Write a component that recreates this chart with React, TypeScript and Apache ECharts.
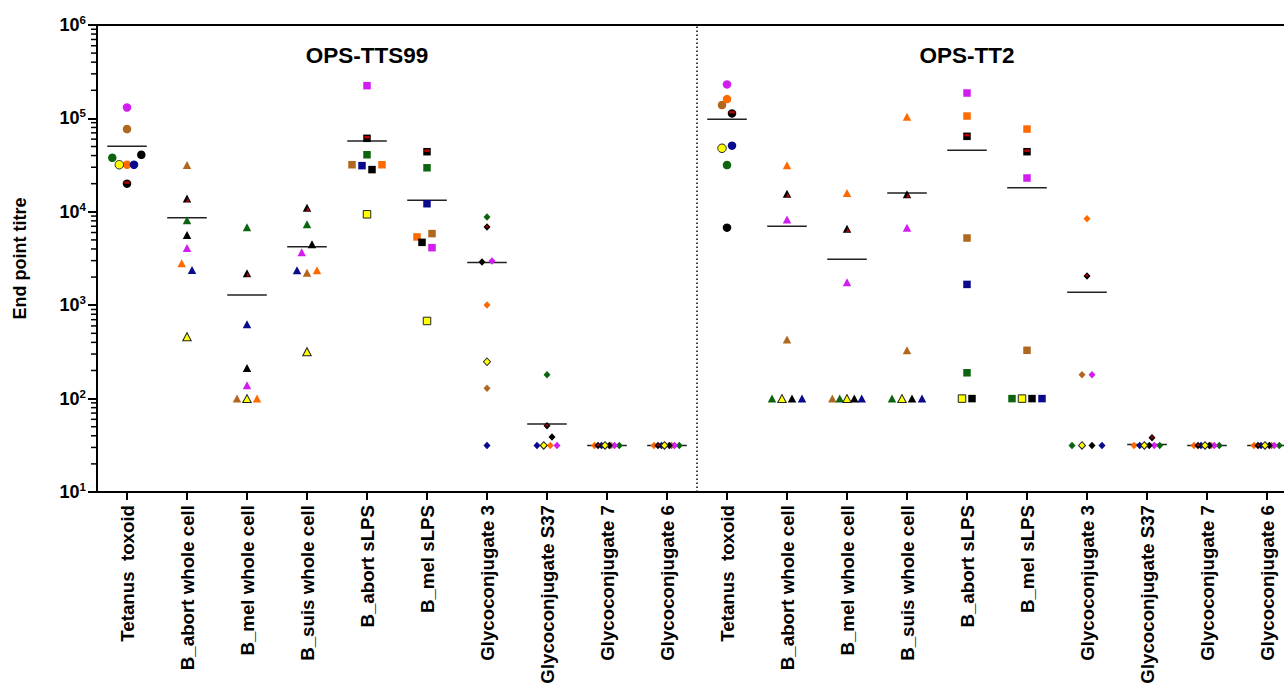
import React, { useEffect, useRef } from "react";
import * as echarts from "echarts";

// ---------- data ----------
const antigenNames = [
  "Tetanus  toxoid",
  "B_abort whole cell",
  "B_mel whole cell",
  "B_suis whole cell",
  "B_abort sLPS",
  "B_mel sLPS",
  "Glycoconjugate 3",
  "Glycoconjugate S37",
  "Glycoconjugate 7",
  "Glycoconjugate 6",
];
const groupTitles = ["OPS-TTS99", "OPS-TT2"];
const categories = [...antigenNames, ...antigenNames];

// end point titres per animal, one value per category (TTS99 x10, then TT2 x10)
const brownValues = [77000, 31700, 100, 2230, 31900, 5840, 129, 31.5, 31.5, 31.5, 139000, 428, 100, 329, 5240, 329, 180, 31.5, 31.5, 31.5];
const greenValues = [37900, 8100, 6820, 7340, 40800, 29600, 8790, 180, 31.5, 31.5, 31700, 100, 100, 100, 189, 100, 31.5, 31.5, 31.5, 31.5];
const magentaValues = [131000, 4100, 139, 3680, 224000, 4130, 2970, 31.5, 31.5, 31.5, 231000, 8250, 1760, 6760, 187000, 23000, 180, 31.5, 31.5, 31.5];
const orangeValues = [31900, 2810, 100, 2370, 31900, 5380, 1005, 31.5, 31.5, 31.5, 161000, 31500, 15900, 104000, 106000, 76900, 8430, 31.5, 31.5, 31.5];
const navyValues = [31900, 2380, 625, 2370, 31200, 12200, 31.5, 31.5, 31.5, 31.5, 51100, 100, 100, 100, 1670, 100, 31.5, 31.5, 31.5, 31.5];
const blackValues = [40800, 5650, 213, 4490, 28300, 4710, 2900, 38.8, 31.5, 31.5, 6760, 100, 100, 100, 100, 100, 31.5, 31.5, 31.5, 31.5];
const blackRedValues = [20000, 13900, 2200, 11060, 61200, 44000, 6870, 51.3, 31.5, 31.5, 113000, 15600, 6600, 15400, 64300, 44000, 2060, 38.1, 31.5, 31.5];
const yellowValues = [31900, 460, 100, 318, 9400, 678, 248, 31.5, 31.5, 31.5, 47900, 100, 100, 100, 100, 100, 31.5, 31.5, 31.5, 31.5];

// horizontal dodge of each point inside its category (in 1/60 of a category)
const brownDodge = [0, 0, -10, 0, -15, 5, 0, -3, 4, 4.5, -5, 0, -14.7, 0, 0, 0, -5, -2.7, 4, 4.5];
const greenDodge = [-14.7, 0, 0, 0, 0, 0, 0, 0, 12.3, 12.3, 0, -15, -7.3, -15, 0, -15, -15, 12.7, 12.3, 12.3];
const magentaDodge = [0, 0, 0, -5.3, 0, 5, 5, 10, 7.5, 7.5, 0, 0, 0, 0, 0, 0, 5, 7.3, 7.3, 7.3];
const orangeDodge = [0, -5.3, 10, 10, 15, -10, 0, 3.3, -12.5, -13, 0, 0, 0, 0, 0, 0, 0, -13, -13, -13];
const navyDodge = [7, 5, 0, -10, -5, 0, 0, -10, -5.5, -5.5, 5, 15, 14.7, 15, 0, 15, 15, -7.3, -6, -6];
const blackDodge = [14.3, 0, 0, 5, 5, -5, -5, 5, 2.3, 2.3, 0, 5, 7.3, 5, 5, 5, 5, 2.3, 2.3, 2.3];
const blackRedDodge = [0, 0, 0, 0, 0, 0, 0, 0, -9, -9, 5, 0, 0, 0, 0, 0, 0, 5, -9, -9];
const yellowDodge = [-7.7, 0, 0, 0, 0, 0, 0, -3.3, -2, -2.5, -5, -5, 0, -5, -5, -5, -5, -2.7, -2, -2];

const yMin = 10;
const yMax = 1000000;
const minorTickMultipliers = [2, 3, 4, 5, 6, 7, 8, 9];

// ---------- styles ----------
const FONT = '"Liberation Sans", Arial, Helvetica, sans-serif';
const COLORS = {
  brown: "#B0681E",
  green: "#0C650E",
  magenta: "#D21DF0",
  orange: "#FF6A00",
  navy: "#0A0A8C",
  black: "#000000",
  yellow: "#FFFF00",
  red: "#E80000",
};

type Animal = { name: string; values: number[]; dodge: number[]; color: string; border?: string };
const animals: Animal[] = [
  { name: "brown", values: brownValues, dodge: brownDodge, color: COLORS.brown },
  { name: "green", values: greenValues, dodge: greenDodge, color: COLORS.green },
  { name: "magenta", values: magentaValues, dodge: magentaDodge, color: COLORS.magenta },
  { name: "orange", values: orangeValues, dodge: orangeDodge, color: COLORS.orange },
  { name: "navy", values: navyValues, dodge: navyDodge, color: COLORS.navy },
  { name: "black", values: blackValues, dodge: blackDodge, color: COLORS.black },
  { name: "blackRed", values: blackRedValues, dodge: blackRedDodge, color: COLORS.black },
  { name: "yellow", values: yellowValues, dodge: yellowDodge, color: COLORS.yellow, border: "#222" },
];

function shapeOf(cat: string): string {
  if (cat.startsWith("Tetanus")) return "circle";
  if (cat.includes("whole cell")) return "triangle";
  if (cat.includes("sLPS")) return "rect";
  return "diamond";
}
function sizeOf(shape: string): number | number[] {
  if (shape === "circle") return 8.5;
  if (shape === "triangle") return [8.5, 8];
  if (shape === "rect") return 7.5;
  return [7, 7.5];
}
function accentOf(shape: string): { symbol: string; size: number[]; offset: number[] } {
  if (shape === "circle") return { symbol: "rect", size: [5.5, 2.4], offset: [0, -1.2] };
  if (shape === "triangle") return { symbol: "triangle", size: [3.2, 4.5], offset: [0.8, 1] };
  if (shape === "rect") return { symbol: "rect", size: [5.5, 2.4], offset: [0, -1.1] };
  return { symbol: "triangle", size: [3.6, 2.8], offset: [0, -0.9] };
}

const BAND_UNITS = 60;

export default function App() {
  const ref = useRef<HTMLDivElement>(null);

  useEffect(() => {
    if (!ref.current) return;
    const chart = echarts.init(ref.current, undefined, { renderer: "svg" });

    const scatterSeries: any[] = animals.map((a, ai) => ({
      type: "scatter",
      name: a.name,
      xAxisIndex: 1,
      yAxisIndex: 0,
      z: 3,
      data: a.values.map((v, i) => {
        const shape = shapeOf(categories[i]);
        return {
          value: [i + a.dodge[i] / BAND_UNITS, v],
          symbol: shape,
          symbolSize: sizeOf(shape),
        };
      }),
      itemStyle: {
        color: a.color,
        borderColor: a.border || a.color,
        borderWidth: a.border ? 1 : 0,
        opacity: 1,
      },
      emphasis: { disabled: true },
      ...(ai === 0
        ? {
            markLine: {
              silent: true,
              symbol: "none",
              label: { show: false },
              lineStyle: { color: "#000", type: [1.5, 2.5], width: 1.5 },
              data: [{ xAxis: antigenNames.length - 0.5 }],
            },
          }
        : {}),
    }));

    const redAccent = {
      type: "scatter",
      name: "blackRedAccent",
      xAxisIndex: 1,
      yAxisIndex: 0,
      z: 3,
      data: blackRedValues.map((v, i) => {
        const shape = shapeOf(categories[i]);
        const acc = accentOf(shape);
        return {
          value: [i + blackRedDodge[i] / BAND_UNITS, v],
          symbol: acc.symbol,
          symbolSize: acc.size,
          symbolOffset: acc.offset,
        };
      }),
      itemStyle: { color: COLORS.red },
      emphasis: { disabled: true },
    };

    const means = categories.map((_, i) => {
      const vals = animals.map((a) => a.values[i]).filter((v) => v != null);
      return [i, vals.reduce((s, v) => s + v, 0) / vals.length];
    });

    const meanSeries = {
      type: "custom",
      name: "mean",
      xAxisIndex: 1,
      yAxisIndex: 0,
      z: 2,
      clip: false,
      encode: { x: 0, y: 1 },
      data: means,
      renderItem: (_p: any, api: any) => {
        const x = api.value(0);
        const y = api.value(1);
        const a = api.coord([x - 0.33, y]);
        const b = api.coord([x + 0.33, y]);
        return {
          type: "line",
          shape: { x1: a[0], y1: a[1], x2: b[0], y2: b[1] },
          style: { stroke: "#222", lineWidth: 1.5 },
        };
      },
    };

    const minorTicks: number[][] = [];
    for (let d = yMin; d < yMax; d *= 10) {
      minorTickMultipliers.forEach((m) => minorTicks.push([-0.5, m * d]));
    }
    const minorTickSeries = {
      type: "custom",
      name: "minorTicks",
      xAxisIndex: 1,
      yAxisIndex: 0,
      z: 5,
      clip: false,
      encode: { x: 0, y: 1 },
      data: minorTicks,
      renderItem: (_p: any, api: any) => {
        const p = api.coord([api.value(0), api.value(1)]);
        return {
          type: "line",
          shape: { x1: p[0] - 6, y1: p[1], x2: p[0], y2: p[1] },
          style: { stroke: "#000", lineWidth: 1.5 },
        };
      },
    };

    const titleCats = [4, 14];

    chart.setOption({
      animation: false,
      textStyle: { fontFamily: FONT },
      grid: {
        left: 97,
        top: 25,
        width: 1200,
        height: 467,
        outerBoundsMode: "none",
        containLabel: false,
        show: true,
        borderColor: "#000",
        borderWidth: 2,
        backgroundColor: "transparent",
      },
      xAxis: [
        {
          type: "category",
          data: categories,
          boundaryGap: true,
          axisLine: { show: true, onZero: false, lineStyle: { color: "#000", width: 2 } },
          axisTick: { show: true, alignWithLabel: true, length: 8, lineStyle: { color: "#000", width: 2 } },
          axisLabel: {
            rotate: 90,
            margin: 13,
            color: "#000",
            fontSize: 18.7,
            fontWeight: "bold",
            fontFamily: FONT,
            interval: 0,
          },
          splitLine: { show: false },
        },
        {
          type: "value",
          min: -0.5,
          max: categories.length - 0.5,
          show: false,
          position: "bottom",
          axisLine: { onZero: false },
        },
      ],
      yAxis: {
        type: "log",
        logBase: 10,
        min: yMin,
        max: yMax,
        name: "End point titre",
        nameLocation: "middle",
        nameGap: 68,
        nameTextStyle: { color: "#000", fontSize: 18, fontWeight: "bold", fontFamily: FONT },
        axisLine: { show: true, onZero: false, lineStyle: { color: "#000", width: 2 } },
        axisTick: { show: true, length: 9, lineStyle: { color: "#000", width: 2 } },
        splitLine: { show: false },
        axisLabel: {
          margin: 11,
          color: "#000",
          formatter: (v: number) => `{b|10}{s|${Math.round(Math.log10(v))}}`,
          rich: {
            b: { fontSize: 18, fontWeight: "bold", fontFamily: FONT, color: "#000" },
            s: { fontSize: 11.5, fontWeight: "bold", fontFamily: FONT, color: "#000", padding: [0, 0, 10, 0] },
          },
        },
      },
      graphic: groupTitles.map((t, gi) => ({
        type: "text",
        x: 97 + (titleCats[gi] + 0.5) * BAND_UNITS,
        y: 55,
        z: 10,
        style: {
          text: t,
          align: "center",
          verticalAlign: "middle",
          fontSize: 22.5,
          fontWeight: "bold",
          fontFamily: FONT,
          fill: "#000",
        },
      })),
      series: [meanSeries, minorTickSeries, ...scatterSeries, redAccent],
    });

    return () => chart.dispose();
  }, []);

  return (
    <div
      ref={ref}
      style={{ position: "fixed", left: 0, top: 0, width: 1284, height: 687, background: "#fff" }}
    />
  );
}
